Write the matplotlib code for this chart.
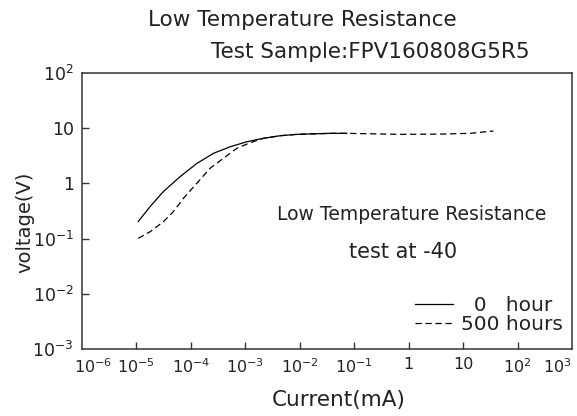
import matplotlib
matplotlib.use("Agg")
import matplotlib.pyplot as plt
import matplotlib.transforms as mtransforms

# values (current in mA, voltage in V)
current_0h = [1.08e-5, 1.78e-5, 3.12e-5, 6.3e-5, 1.28e-4, 2.6e-4, 5.3e-4,
              1.07e-3, 2.15e-3, 4.4e-3, 8.9e-3, 3.6e-2, 7.3e-2]
voltage_0h = [0.204, 0.38, 0.71, 1.32, 2.29, 3.51, 4.62,
              5.69, 6.56, 7.31, 7.74, 8.07, 8.07]

current_500h = [1.08e-5, 1.78e-5, 3.12e-5, 4.76e-5, 7.3e-5, 1.28e-4, 2.25e-4,
                3.96e-4, 7.0e-4, 1.23e-3, 2.15e-3, 4.4e-3, 8.9e-3, 3.6e-2,
                7.3e-2, 0.70, 3.8, 13.6, 36]
voltage_500h = [0.101, 0.133, 0.202, 0.307, 0.537, 1.0, 1.88,
                2.85, 4.33, 5.46, 6.56, 7.31, 7.74, 8.07,
                8.07, 7.74, 7.82, 8.07, 8.91]

x_ticks = [1e-6, 1e-5, 1e-4, 1e-3, 1e-2, 1e-1, 1, 10, 1e2, 1e3]
x_labels = [r"$10^{-6}$", r"$10^{-5}$", r"$10^{-4}$", r"$10^{-3}$", r"$10^{-2}$",
            r"$10^{-1}$", "1", "10", r"$10^{2}$", r"$10^{3}$"]
y_ticks = [1e-3, 1e-2, 1e-1, 1, 10, 1e2]
y_labels = [r"$10^{-3}$", r"$10^{-2}$", r"$10^{-1}$", "1", "10", r"$10^{2}$"]

ink = "#222222"
plt.rcParams["font.family"] = ["DejaVu Sans"]
plt.rcParams["text.color"] = ink

fig = plt.figure(figsize=(5.77, 4.16), dpi=100)
ax = fig.add_axes([82 / 577, 1 - 349 / 416, 490 / 577, 276 / 416])

ax.plot(current_0h, voltage_0h, color="black", lw=0.9, label="  0   hour")
ax.plot(current_500h, voltage_500h, color="black", lw=0.9,
        linestyle=(0, (5, 3)), label="500 hours")

ax.set_xscale("log")
ax.set_yscale("log")
ax.set_xlim(1e-6, 1e3)
ax.set_ylim(1e-3, 1e2)

ax.set_xticks(x_ticks)
ax.set_xticklabels(x_labels)
ax.set_yticks(y_ticks)
ax.set_yticklabels(y_labels)
ax.minorticks_off()
ax.tick_params(direction="in", length=5, width=1, color="#333333",
               labelsize=11.5, labelcolor=ink)
ax.tick_params(axis="y", pad=6, labelsize=12.5)
ax.tick_params(axis="x", pad=6)

# end labels sit inside the frame in the reference, first one a bit left
xt = ax.get_xticklabels()
xt[0].set_horizontalalignment("left")
xt[0].set_transform(xt[0].get_transform() +
                    mtransforms.ScaledTranslation(-6 / 72, 0, fig.dpi_scale_trans))
xt[-1].set_horizontalalignment("right")
for i in (0, -1):
    ax.xaxis.get_major_ticks()[i].tick1line.set_visible(False)
    ax.yaxis.get_major_ticks()[i].tick1line.set_visible(False)

for sp in ax.spines.values():
    sp.set_color("#333333")
    sp.set_linewidth(1.1)

ax.set_xlabel("Current(mA)", fontsize=15.5, color=ink)
ax.set_ylabel("voltage(V)", fontsize=14, color=ink)
ax.xaxis.set_label_coords(0.524, -0.15)
ax.yaxis.set_label_coords(-0.098, 0.46)

# two-line heading
fig.text(302 / 577, 1 - 20 / 416, "Low Temperature Resistance",
         ha="center", va="center", fontsize=15.5)
fig.text(370 / 577, 1 - 52 / 416, "Test Sample:FPV160808G5R5",
         ha="center", va="center", fontsize=15.5)

ax.text(0.673, 0.486, "Low Temperature Resistance", transform=ax.transAxes,
        ha="center", va="center", fontsize=13.5)
ax.text(0.655, 0.351, "test at -40", transform=ax.transAxes,
        ha="center", va="center", fontsize=15)

ax.legend(loc="lower right", bbox_to_anchor=(0.982, 0.055), frameon=False,
          fontsize=14.5, handlelength=1.9, handletextpad=0.4,
          labelspacing=0.0, borderpad=0, borderaxespad=0)

fig.savefig("out.png", dpi=100)
